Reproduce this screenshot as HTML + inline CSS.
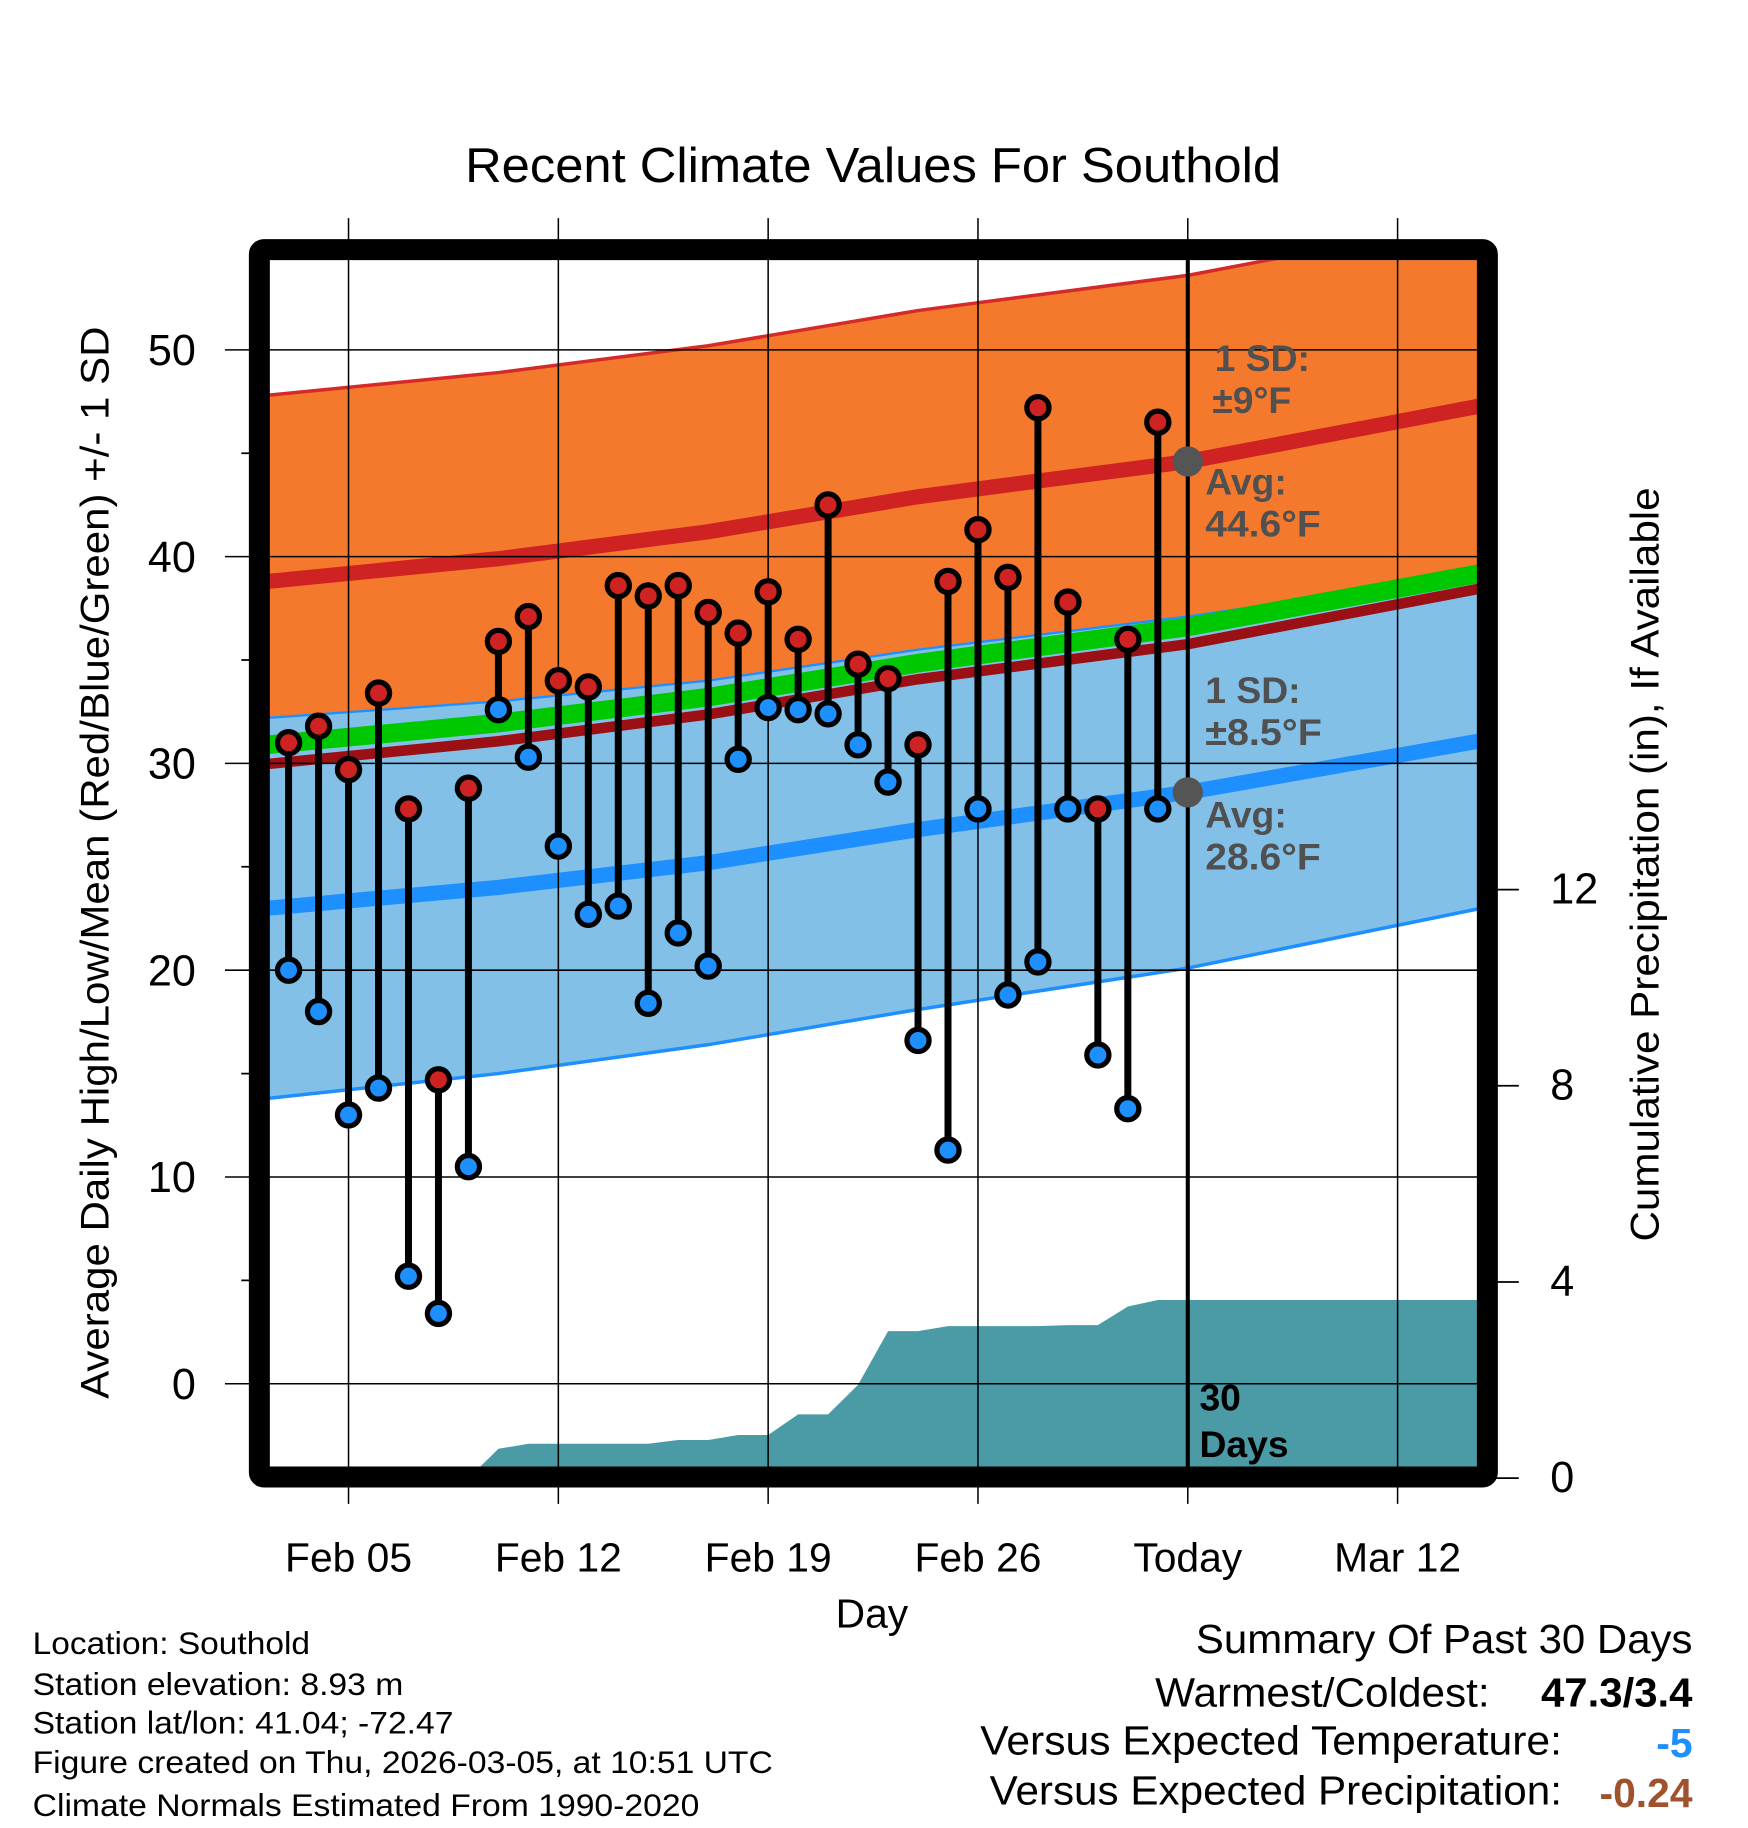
<!DOCTYPE html>
<html><head><meta charset="utf-8"><style>
html,body{margin:0;padding:0;background:#fff}
svg{display:block}
text{font-family:"Liberation Sans",sans-serif}
</style></head><body>
<svg id="chart" width="1748" height="1828" viewBox="0 0 1499.6 1568" xmlns="http://www.w3.org/2000/svg">
<defs><clipPath id="pc"><rect x="231" y="223" width="1037" height="1036"/></clipPath></defs>
<g id="plot" clip-path="url(#pc)"></g>
<g id="over"></g>
</svg>
<script>
// ---- data ----
const obsDays = [-2,-1,0,1,2,3,4,5,6,7,8,9,10,11,12,13,14,15,16,17,18,19,20,21,22,23,24,25,26,27];
const highs = [31,31.8,29.7,33.4,27.8,14.7,28.8,35.9,37.1,34,33.7,38.6,38.1,38.6,37.3,36.3,38.3,36,42.5,34.8,34.1,30.9,38.8,41.3,39,47.2,37.8,27.8,36,46.5];
const lows = [20,18,13,14.3,5.2,3.4,10.5,32.6,30.3,26,22.7,23.1,18.4,21.8,20.2,30.2,32.7,32.6,32.4,30.9,29.1,16.6,11.3,27.8,18.8,20.4,27.8,15.9,13.3,27.8];
const precip = [0,0,0,0,0,0,0,0.6,0.7,0.7,0.7,0.7,0.7,0.78,0.78,0.88,0.88,1.3,1.3,1.9,3.0,3.0,3.1,3.1,3.1,3.1,3.12,3.12,3.5,3.63];
const normDays = [-2.7,5,12,19,28,37.8];
const avgHigh = [38.8,39.9,41.2,42.9,44.6,47.3];
const sdHigh = [9,9,9,9,9,9];
const avgLow = [23.0,24.0,25.2,26.8,28.6,31.1];
const sdLow = [9.2,9.0,8.8,8.7,8.5,8.1];
const xTickDays = [0,7,14,21,28,35];
const xTickLabels = ["Feb 05","Feb 12","Feb 19","Feb 26","Today","Mar 12"];
const yTicks = [0,10,20,30,40,50];
const pTicks = [0,4,8,12];

// ---- axes ----
const X = d => 299 + d*25.714;
const Y = v => 1187 - v*17.74;
const P = p => 1268 - p*42.08;
const NS = "http://www.w3.org/2000/svg";
const plot = document.getElementById('plot'), over = document.getElementById('over'), svg = document.getElementById('chart');
function mk(tag, attrs, parent){const e=document.createElementNS(NS,tag);for(const k in attrs)e.setAttribute(k,attrs[k]);parent.appendChild(e);return e;}

function curve(arr){return normDays.map((d,i)=>[X(d),Y(arr(i))]);}
function pts(a){return a.map(p=>p[0].toFixed(1)+','+p[1].toFixed(1)).join(' ');}
const hiU = curve(i=>avgHigh[i]+sdHigh[i]), hiL = curve(i=>avgHigh[i]-sdHigh[i]);
const loU = curve(i=>avgLow[i]+sdLow[i]), loL = curve(i=>avgLow[i]-sdLow[i]);

let e;
e = mk('polygon',{points:pts(hiU.concat(hiL.slice().reverse())),fill:'#f5792c'},plot);


e = mk('polyline',{points:pts(hiU),fill:'none',stroke:'#d42a2a','stroke-width':3},plot);


e = mk('polygon',{points:pts(loU.concat(loL.slice().reverse())),fill:'#82c0e7'},plot);


e = mk('polyline',{points:pts(loL),fill:'none',stroke:'#1e8fff','stroke-width':3},plot);


e = mk('polyline',{points:pts(loU),fill:'none',stroke:'#1e8fff','stroke-width':2},plot);


e = mk('polyline',{points:pts(curve(i=>(avgHigh[i]+avgLow[i])/2)),fill:'none',stroke:'#00c800','stroke-width':16},plot);


e = mk('polyline',{points:pts(hiL.map(p=>[p[0],p[1]-3])),fill:'none',stroke:'#9a1014','stroke-width':9},plot);


e = mk('polyline',{points:pts(curve(i=>avgHigh[i])),fill:'none',stroke:'#cf2323','stroke-width':13},plot);


e = mk('polyline',{points:pts(curve(i=>avgLow[i])),fill:'none',stroke:'#1e8fff','stroke-width':13},plot);



// precipitation area
let pp = [[X(obsDays[0]-0.5),P(0)]];
obsDays.forEach((d,i)=>pp.push([X(d),P(precip[i])]));
pp.push([1270,P(precip[precip.length-1])],[1270,1270]);
e = mk('polygon',{points:pts(pp),fill:'#4a9ba6'},plot);



// grid
xTickDays.forEach(d=>{e=mk('line',{x1:X(d),x2:X(d),y1:187,y2:1290,stroke:'#000','stroke-width':1.3},over);

});
yTicks.forEach(v=>{e=mk('line',{x1:193,x2:1268,y1:Y(v),y2:Y(v),stroke:'#000','stroke-width':1.3},over);


const t=mk('text',{x:168,y:Y(v)+13,'font-size':37,'text-anchor':'end'},svg);t.textContent=v;

});
yTicks.forEach(v=>{if(v<50){const m=mk('line',{x1:207,x2:223,y1:Y(v+5),y2:Y(v+5),stroke:'#000','stroke-width':1.5},over);

}});
pTicks.forEach(p=>{e=mk('line',{x1:1276,x2:1303,y1:P(p),y2:P(p),stroke:'#000','stroke-width':1.5},over);


const t=mk('text',{x:1330,y:P(p)+12,'font-size':37},svg);t.textContent=p;

});
xTickDays.forEach((d,i)=>{const t=mk('text',{x:X(d),y:1348,'font-size':35,'text-anchor':'middle'},svg);t.textContent=xTickLabels[i];

});

// today line
e = mk('line',{x1:X(28),x2:X(28),y1:223,y2:1259,stroke:'#000','stroke-width':3.5},over);



// stems and dots
obsDays.forEach((d,i)=>{
  const s=mk('line',{x1:X(d),x2:X(d),y1:Y(highs[i]),y2:Y(lows[i]),stroke:'#000','stroke-width':6},over);
  
  
});
obsDays.forEach((d,i)=>{
  const h=mk('circle',{cx:X(d),cy:Y(highs[i]),r:9.5,fill:'#cf2323',stroke:'#000','stroke-width':4.5},over);
  
  
  const l=mk('circle',{cx:X(d),cy:Y(lows[i]),r:9.5,fill:'#1e8fff',stroke:'#000','stroke-width':4.5},over);
  
  
});
e = mk('circle',{cx:X(28),cy:Y(avgHigh[4]),r:13,fill:'#555'},over);


e = mk('circle',{cx:X(28),cy:Y(avgLow[4]),r:13,fill:'#555'},over);


</script>
<svg style="position:absolute;left:0;top:0" width="1748" height="1828" viewBox="0 0 1499.6 1568" xmlns="http://www.w3.org/2000/svg">
<rect x="222.5" y="214" width="1053.5" height="1053" fill="none" stroke="#000" stroke-width="18" rx="4"/>
<g fill="#505050" font-weight="bold" font-size="32" font-family="Liberation Sans, sans-serif">
<text x="1042" y="318">1 SD:</text>
<text x="1040" y="354">±9°F</text>
<text x="1034" y="424">Avg:</text>
<text x="1034" y="460" textLength="99" lengthAdjust="spacingAndGlyphs">44.6°F</text>
<text x="1034" y="603">1 SD:</text>
<text x="1034" y="639" textLength="100" lengthAdjust="spacingAndGlyphs">±8.5°F</text>
<text x="1034" y="710">Avg:</text>
<text x="1034" y="746" textLength="99" lengthAdjust="spacingAndGlyphs">28.6°F</text>
</g>
<g font-family="Liberation Sans, sans-serif">
<text x="1029" y="1210" font-size="32" font-weight="bold">30</text>
<text x="1029" y="1250" font-size="32" font-weight="bold">Days</text>
<text x="399" y="156" font-size="42" textLength="700" lengthAdjust="spacingAndGlyphs">Recent Climate Values For Southold</text>
<text x="748" y="1396" font-size="35" text-anchor="middle">Day</text>
<text transform="translate(93,1200) rotate(-90)" font-size="34" textLength="920" lengthAdjust="spacingAndGlyphs">Average Daily High/Low/Mean (Red/Blue/Green) +/- 1 SD</text>
<text transform="translate(1423,1065) rotate(-90)" font-size="34" textLength="647" lengthAdjust="spacingAndGlyphs">Cumulative Precipitation (in), If Available</text>
<g font-size="27">
<text x="28" y="1419" textLength="238" lengthAdjust="spacingAndGlyphs">Location: Southold</text>
<text x="28" y="1454" textLength="318" lengthAdjust="spacingAndGlyphs">Station elevation: 8.93 m</text>
<text x="28" y="1487" textLength="361" lengthAdjust="spacingAndGlyphs">Station lat/lon: 41.04; -72.47</text>
<text x="28" y="1521" textLength="635" lengthAdjust="spacingAndGlyphs">Figure created on Thu, 2026-03-05, at 10:51 UTC</text>
<text x="28" y="1558" textLength="572" lengthAdjust="spacingAndGlyphs">Climate Normals Estimated From 1990-2020</text>
</g>
<g font-size="35">
<text x="1026" y="1418" textLength="426" lengthAdjust="spacingAndGlyphs">Summary Of Past 30 Days</text>
<text x="991" y="1464" textLength="287" lengthAdjust="spacingAndGlyphs">Warmest/Coldest:</text>
<text x="1322" y="1464" font-weight="bold" textLength="130" lengthAdjust="spacingAndGlyphs">47.3/3.4</text>
<text x="841" y="1505" textLength="499" lengthAdjust="spacingAndGlyphs">Versus Expected Temperature:</text>
<text x="1452" y="1507" text-anchor="end" font-weight="bold" fill="#1e8fff">-5</text>
<text x="849" y="1548" textLength="491" lengthAdjust="spacingAndGlyphs">Versus Expected Precipitation:</text>
<text x="1452" y="1550" text-anchor="end" font-weight="bold" fill="#a0522d">-0.24</text>
</g>
</g>
</svg>
</body></html>
